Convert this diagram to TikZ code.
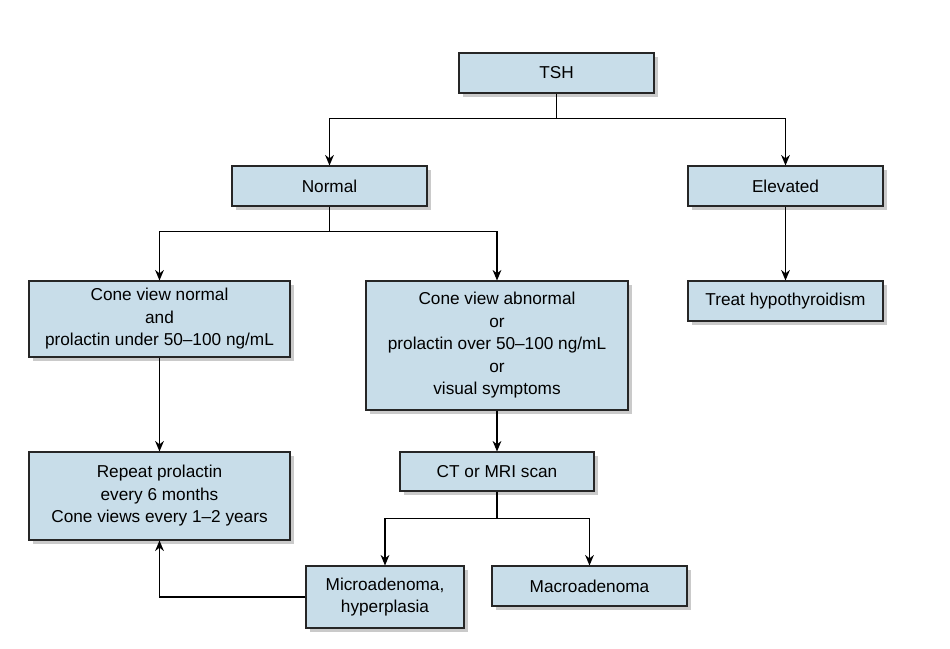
\documentclass[tikz,border=0pt]{standalone}
\usepackage{fontspec}
\setsansfont{Liberation Sans}
\usepackage{tikz}
\usetikzlibrary{arrows.meta, shadows}

\definecolor{boxblue}{RGB}{200,221,233}

\begin{document}
\begin{tikzpicture}[
    font=\sffamily\fontsize{9.8}{12.8}\selectfont,
    >={Stealth[length=6pt,width=5pt]},
    line width=0.6pt,
    stepbox/.style={rectangle, draw=black!85, fill=boxblue, inner sep=0pt, align=center,
        drop shadow={shadow xshift=2pt, shadow yshift=-2.5pt, opacity=0.35, fill=black!60}},
    arrow/.style={->, line width=0.6pt}
]
    \useasboundingbox (0,0) rectangle (19,-12.96);
    \node[stepbox, minimum width=3.9cm, minimum height=0.8cm] (tsh) at (11.13,-1.46) {TSH};
    \node[stepbox, minimum width=3.9cm, minimum height=0.8cm] (normal) at (6.59,-3.72) {Normal};
    \node[stepbox, minimum width=3.9cm, minimum height=0.8cm] (elevated) at (15.71,-3.72) {Elevated};
    \node[stepbox, minimum width=5.22cm, minimum height=1.52cm] (conenormal) at (3.19,-6.38) {Cone view normal\\and\\prolactin under 50--100 ng/mL};
    \node[stepbox, minimum width=5.24cm, minimum height=2.58cm] (coneabnormal) at (9.94,-6.91) {Cone view abnormal\\or\\prolactin over 50--100 ng/mL\\or\\visual symptoms};
    \node[stepbox, minimum width=3.9cm, minimum height=0.8cm] (treat) at (15.71,-6.02) {Treat hypothyroidism};
    \node[stepbox, minimum width=5.22cm, minimum height=1.76cm] (repeat) at (3.19,-9.92) {Repeat prolactin\\every 6 months\\Cone views every 1--2 years};
    \node[stepbox, minimum width=3.88cm, minimum height=0.78cm] (ctmri) at (9.94,-9.43) {CT or MRI scan};
    \node[stepbox, minimum width=3.16cm, minimum height=1.24cm] (micro) at (7.70,-11.94) {Microadenoma,\\hyperplasia};
    \node[stepbox, minimum width=3.9cm, minimum height=0.8cm] (macro) at (11.79,-11.72) {Macroadenoma};
    % TSH branches
    \draw[arrow] (tsh.south) -- +(0,-0.5) -| (normal.north);
    \draw[arrow] (tsh.south) -- +(0,-0.5) -| (elevated.north);
    % Normal branches
    \draw[arrow] (normal.south) -- +(0,-0.5) -| (conenormal.north);
    \draw[arrow] (normal.south) -- +(0,-0.5) -| (coneabnormal.north);
    \draw[arrow] (elevated) -- (treat);
    \draw[arrow] (conenormal) -- (repeat);
    \draw[arrow] (coneabnormal) -- (ctmri);
    % scan results
    \draw[arrow] (ctmri.south) -- +(0,-0.54) -| (micro.north);
    \draw[arrow] (ctmri.south) -- +(0,-0.54) -| (macro.north);
    \draw[arrow] (micro.west) -| (repeat.south);
\end{tikzpicture}
\end{document}
